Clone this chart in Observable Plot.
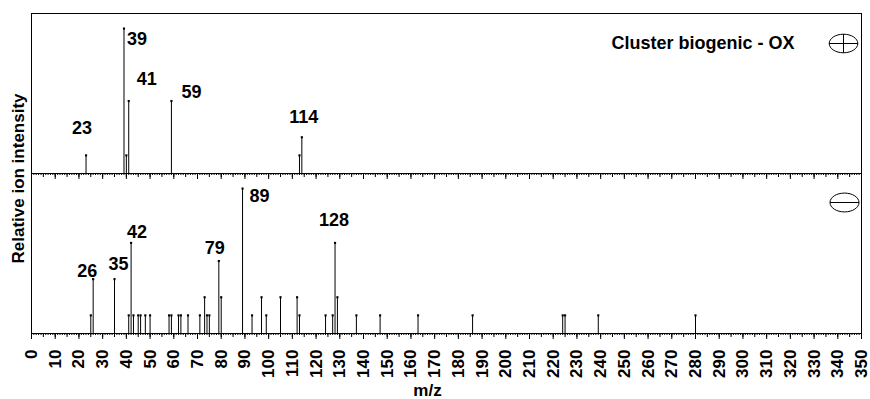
<!DOCTYPE html>
<html>
<head>
<meta charset="utf-8">
<script src="https://cdn.jsdelivr.net/npm/d3@7"></script>
<script src="https://cdn.jsdelivr.net/npm/@observablehq/plot@0.6"></script>
<style>
  html, body { margin: 0; padding: 0; background: #fff; }
  #chart { width: 870px; height: 399px; }
</style>
</head>
<body>
<div id="chart"></div>
<script>
// ---- Data ----
const panels = ["pos", "neg"];

// Positive ion spectrum (top panel): m/z and relative intensity level
const posMz    = [23, 39, 40, 41, 59, 113, 114];
const posLevel = [1, 8, 1, 4, 4, 1, 2];

// Negative ion spectrum (bottom panel)
const negMz    = [25, 26, 35, 41, 42, 43, 45, 46, 48, 50, 58, 59, 62, 63, 66, 71, 73, 74, 75, 79, 80, 89, 93, 97, 99, 105, 112, 113, 124, 127, 128, 129, 137, 147, 163, 186, 224, 225, 239, 280];
const negLevel = [1, 3, 3, 1, 5, 1, 1, 1, 1, 1, 1, 1, 1, 1, 1, 1, 2, 1, 1, 4, 2, 8, 1, 2, 1, 2, 2, 1, 1, 1, 5, 2, 1, 1, 1, 1, 1, 1, 1, 1];

// Labelled peaks
const posLabels = [23, 39, 41, 59, 114];
const negLabels = [26, 35, 42, 79, 89, 128];

const xTicks = d3.range(0, 351, 10);
const legendText = "Cluster biogenic - OX";
const yLabel = "Relative ion intensity";
const xLabel = "m/z";

// ---- Build table ----
const peaks = [
  ...posMz.map((mz, i) => ({panel: "pos", mz, level: posLevel[i]})),
  ...negMz.map((mz, i) => ({panel: "neg", mz, level: negLevel[i]}))
];
const findPeak = (panel, mz) => peaks.find(d => d.panel === panel && d.mz === mz);

// label nudges (pixels) relative to the top of each labelled peak
const nudge = {
  "pos23": [-4, -27], "pos39": [13, 11], "pos41": [18, -22], "pos59": [20, -9], "pos114": [2, -20],
  "neg26": [-6, -8], "neg35": [4, -15], "neg42": [6, -11], "neg79": [-4, -13], "neg89": [17, 8], "neg128": [-1, -23]
};

const labelMarks = [
  ...posLabels.map(mz => ["pos", mz]),
  ...negLabels.map(mz => ["neg", mz])
].map(([panel, mz]) => {
  const [dx, dy] = nudge[panel + mz];
  return Plot.text([findPeak(panel, mz)], {
    x: "mz", y: "level", fy: "panel", text: d => String(d.mz),
    dx, dy, fontSize: 18, fontWeight: "bold", fill: "#000"
  });
});

// ellipse symbols (with + or -)
function ellipseSymbol(plus) {
  return {
    draw(ctx, size) {
      const r = Math.sqrt(size / Math.PI);
      const rx = r, ry = r * 0.65, k = 0.5523;
      ctx.moveTo(rx, 0);
      ctx.bezierCurveTo(rx, k * ry, k * rx, ry, 0, ry);
      ctx.bezierCurveTo(-k * rx, ry, -rx, k * ry, -rx, 0);
      ctx.bezierCurveTo(-rx, -k * ry, -k * rx, -ry, 0, -ry);
      ctx.bezierCurveTo(k * rx, -ry, rx, -k * ry, rx, 0);
      ctx.closePath();
      ctx.moveTo(-rx, 0);
      ctx.lineTo(rx, 0);
      if (plus) { ctx.moveTo(0, -ry); ctx.lineTo(0, ry); }
    }
  };
}

const chart = Plot.plot({
  width: 870,
  height: 399,
  marginLeft: 31,
  marginRight: 9,
  marginTop: 13,
  marginBottom: 66,
  style: {fontFamily: "'Liberation Sans', Arial, Helvetica, sans-serif", fontSize: "17px", color: "#000", background: "#fff"},
  x: {domain: [0, 350], axis: null},
  y: {domain: [0, 8.83], axis: null},
  fy: {domain: panels, padding: 0, axis: null},
  marks: [
    // minor tick marks on both panel baselines
    Plot.axisX(d3.range(0, 351, 1), {anchor: "bottom", facetAnchor: null, tickSize: 2, tickFormat: () => "", label: null, stroke: "#000"}),
    Plot.axisX(d3.range(0, 351, 5), {anchor: "bottom", facetAnchor: null, tickSize: 4, tickFormat: () => "", label: null, stroke: "#000"}),
    Plot.axisX(xTicks, {anchor: "bottom", facetAnchor: null, tickSize: 6, tickFormat: () => "", label: null, stroke: "#000"}),
    // tick labels on the bottom panel only
    Plot.axisX(xTicks, {anchor: "bottom", tickSize: 0, tickPadding: 16, tickRotate: -90, fontSize: 17, fontWeight: "bold", label: null, fill: "#000"}),
    Plot.frame({stroke: "#000", strokeWidth: 1}),
    Plot.ruleX(peaks, {x: "mz", y1: 0, y2: "level", fy: "panel", stroke: "#000", strokeWidth: 1}),
    Plot.dot(peaks, {x: "mz", y: "level", fy: "panel", r: 1.2, symbol: "square", fill: "#000"}),
    ...labelMarks,
    Plot.text([legendText], {fy: () => "pos", frameAnchor: "top-right", textAnchor: "end", lineAnchor: "middle", dx: -67, dy: 30, fontSize: 18, fontWeight: "bold", fill: "#000"}),
    Plot.dot(["+"], {fy: () => "pos", frameAnchor: "top-right", dx: -18, dy: 30, r: 14.3, symbol: ellipseSymbol(true), stroke: "#000", strokeWidth: 1, fill: "none"}),
    Plot.dot(["-"], {fy: () => "neg", frameAnchor: "top-right", dx: -17, dy: 29, r: 14.5, symbol: ellipseSymbol(false), stroke: "#000", strokeWidth: 1, fill: "none"}),
    Plot.text([yLabel], {fy: () => "pos", frameAnchor: "bottom-left", rotate: -90, textAnchor: "middle", lineAnchor: "middle", dx: -13, dy: 5, fontSize: 17, fontWeight: "bold", fill: "#000"}),
    Plot.text([xLabel], {fy: () => "neg", frameAnchor: "bottom", textAnchor: "middle", lineAnchor: "middle", dx: -19, dy: 57, fontSize: 17, fontWeight: "bold", fill: "#000"})
  ]
});

document.getElementById("chart").appendChild(chart);
</script>
</body>
</html>
